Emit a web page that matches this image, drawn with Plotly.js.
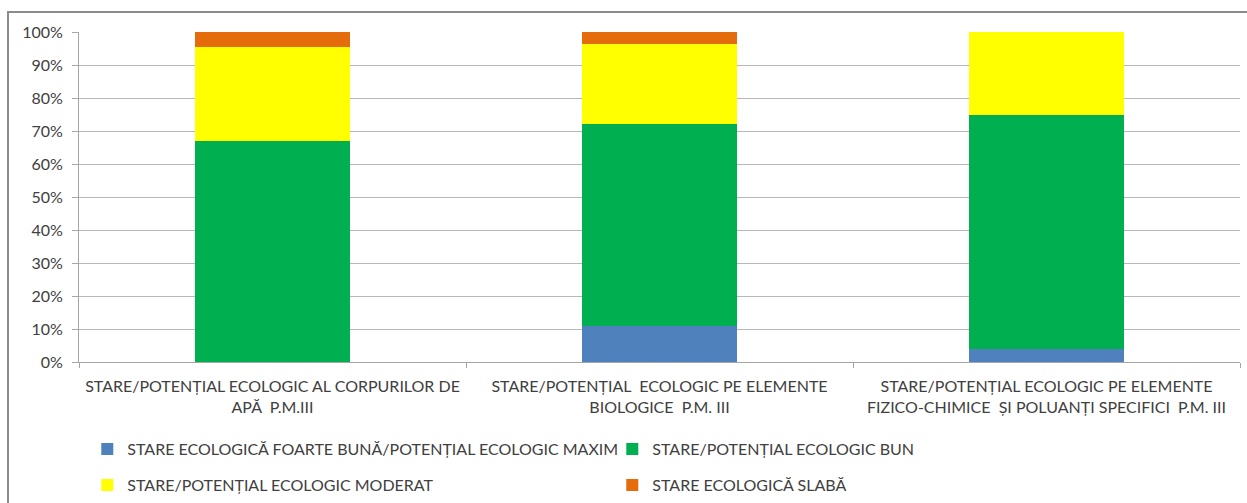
<!DOCTYPE html>
<html>
<head>
<meta charset="utf-8">
<script src="https://cdn.plot.ly/plotly-3.0.1.min.js"></script>
<style>
  html, body { margin: 0; padding: 0; background: #fff; overflow: hidden; }
  #frame { position: absolute; left: 7px; top: 11px; width: 1260px; height: 520px; border: 2px solid #8c8c8c; box-sizing: border-box; }
  #chart { position: absolute; left: 0; top: 0; width: 1247px; height: 503px; }
</style>
</head>
<body>
<div id="frame"></div>
<div id="chart"></div>
<script>
const categories = [
  "STARE/POTENȚIAL ECOLOGIC AL CORPURILOR DE<br>APĂ  P.M.III",
  "STARE/POTENȚIAL  ECOLOGIC PE ELEMENTE<br>BIOLOGICE  P.M. III",
  "STARE/POTENȚIAL ECOLOGIC PE ELEMENTE<br>FIZICO-CHIMICE  ȘI POLUANȚI SPECIFICI  P.M. III"
];
const seriesNames = [
  "STARE ECOLOGICĂ FOARTE BUNĂ/POTENȚIAL ECOLOGIC MAXIM",
  "STARE/POTENȚIAL ECOLOGIC BUN",
  "STARE/POTENȚIAL ECOLOGIC MODERAT",
  "STARE ECOLOGICĂ SLABĂ"
];
const foarteBuna = [0, 11, 4];
const bun = [67, 61, 71];
const moderat = [28.5, 24.5, 25];
const slaba = [4.5, 3.5, 0];
const seriesValues = [foarteBuna, bun, moderat, slaba];
const colors = ["#4f81bd", "#00b050", "#ffff00", "#e46c0a"];
const legendIds = ["legend", "legend", "legend2", "legend2"];

const FONT = "Lato, Liberation Sans, Arial, sans-serif";
const traces = seriesValues.map((vals, i) => ({
  type: "bar",
  name: seriesNames[i],
  x: categories,
  y: vals,
  marker: { color: colors[i], line: { width: 0 } },
  legend: legendIds[i],
  hoverinfo: "x+y+name"
}));

const legendCommon = {
  orientation: "h",
  xref: "container",
  yref: "container",
  xanchor: "left",
  yanchor: "middle",
  font: { family: FONT, size: 16, color: "#404040" },
  entrywidth: 480,
  entrywidthmode: "pixels",
  bgcolor: "rgba(0,0,0,0)",
  traceorder: "normal"
};

const layout = {
  width: 1247,
  height: 503,
  margin: { l: 79, r: 7, t: 32, b: 141 },
  paper_bgcolor: "rgba(0,0,0,0)",
  plot_bgcolor: "rgba(0,0,0,0)",
  barmode: "stack",
  bargap: 0.6,
  font: { family: FONT, size: 16, color: "#404040" },
  showlegend: true,
  legend: Object.assign({}, legendCommon, { x: 0.07, y: 1 - 449 / 503 }),
  legend2: Object.assign({}, legendCommon, { x: 0.07, y: 1 - 485 / 503 }),
  xaxis: {
    type: "category",
    showline: true,
    linecolor: "#a6a6a6",
    linewidth: 1,
    ticks: "outside",
    tickson: "boundaries",
    ticklen: 5,
    tickcolor: "#a6a6a6",
    showgrid: false,
    ticklabelstandoff: 10,
    tickfont: { family: FONT, size: 16, color: "#404040" },
    tickangle: 0
  },
  yaxis: {
    range: [0, 100],
    tickvals: [0, 10, 20, 30, 40, 50, 60, 70, 80, 90, 100],
    ticktext: ["0%", "10%", "20%", "30%", "40%", "50%", "60%", "70%", "80%", "90%", "100%"],
    showline: true,
    linecolor: "#a6a6a6",
    linewidth: 1,
    ticks: "outside",
    ticklen: 6,
    tickcolor: "#a6a6a6",
    showgrid: true,
    gridcolor: "#b8b8b8",
    gridwidth: 1,
    zeroline: false,
    ticklabelstandoff: 6,
    tickfont: { family: FONT, size: 16, color: "#404040" }
  }
};

Plotly.newPlot("chart", traces, layout, { displayModeBar: false, staticPlot: true });
</script>
</body>
</html>
